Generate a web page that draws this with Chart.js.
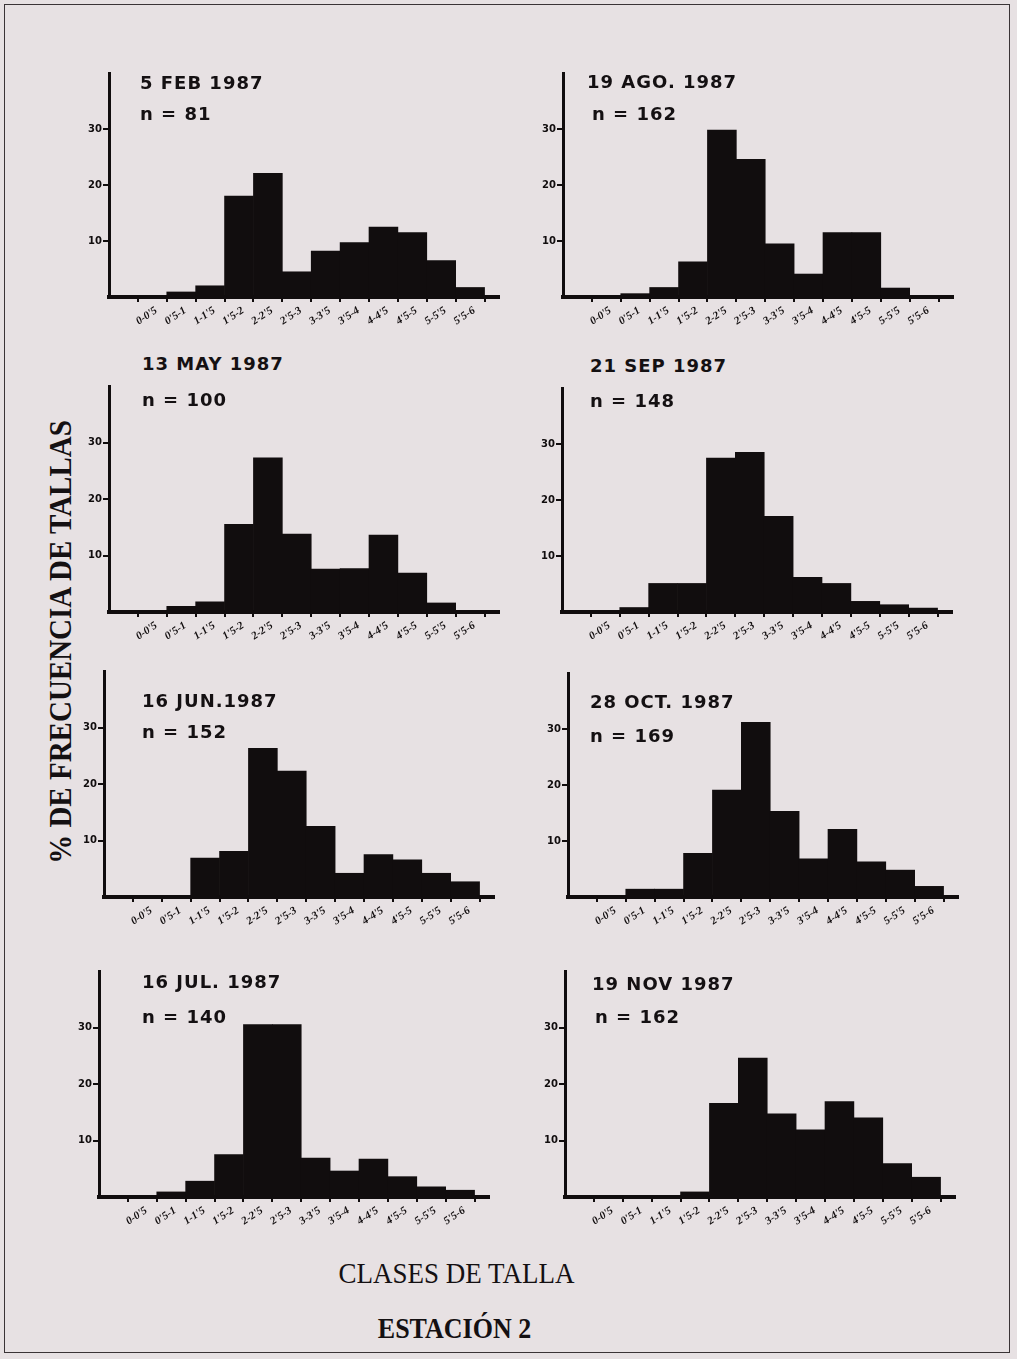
<!DOCTYPE html>
<html>
<head>
<meta charset="utf-8">
<script src="https://cdn.jsdelivr.net/npm/chart.js@4/dist/chart.umd.min.js"></script>
<style>
html,body{margin:0;padding:0;background:#e7e1e3;}
#page{position:relative;width:1017px;height:1359px;background:#e7e1e3;overflow:hidden;}
#frame{position:absolute;left:4px;top:4px;width:1004px;height:1347px;border:1.5px solid #3a3436;}
canvas{position:absolute;}
.t{position:absolute;font-family:"DejaVu Sans",sans-serif;font-weight:bold;font-size:18px;line-height:18px;letter-spacing:1px;color:#141012;white-space:pre;}
#ytitle{position:absolute;width:520px;left:-200px;top:627px;height:30px;line-height:30px;text-align:center;
  font-family:"Liberation Serif",serif;font-weight:bold;font-size:29px;color:#141012;transform:rotate(-90deg) scaleY(1.1);transform-origin:center center;white-space:pre;}
#xtitle{position:absolute;left:0;width:913px;top:1258px;line-height:30px;text-align:center;font-family:"Liberation Serif",serif;font-size:27px;color:#141012;white-space:pre;transform:scaleY(1.12);}
#station{position:absolute;left:0;width:909px;top:1314px;line-height:30px;text-align:center;font-family:"Liberation Serif",serif;font-weight:bold;font-size:26px;color:#141012;white-space:pre;transform:scaleY(1.12);}
</style>
</head>
<body>
<div id="page">
  <div id="frame"></div>
  <div id="ytitle">% DE FRECUENCIA DE TALLAS</div>
  <div id="xtitle">CLASES DE TALLA</div>
  <div id="station">ESTACIÓN 2</div>
</div>
<script>
// ---- data ----
const classLabels = ["0-0'5","0'5-1","1-1'5","1'5-2","2-2'5","2'5-3","3-3'5","3'5-4","4-4'5","4'5-5","5-5'5","5'5-6"];
const classLower = [0, 0.5, 1, 1.5, 2, 2.5, 3, 3.5, 4, 4.5, 5, 5.5];
const classUpper = [0.5, 1, 1.5, 2, 2.5, 3, 3.5, 4, 4.5, 5, 5.5, 6];
const yTickValues = [10, 20, 30];
const sampleDates = ["5 FEB 1987", "19 AGO. 1987", "13 MAY 1987", "21 SEP 1987", "16 JUN.1987", "28 OCT. 1987", "16 JUL. 1987", "19 NOV 1987"];
const sampleN = [81, 162, 100, 148, 152, 169, 140, 162];

const feb = [0, 0.9, 2.0, 18.0, 22.1, 4.5, 8.2, 9.7, 12.5, 11.5, 6.5, 1.7];
const ago = [0, 0.6, 1.7, 6.3, 29.8, 24.6, 9.5, 4.1, 11.5, 11.5, 1.6, 0];
const may = [0, 1.0, 1.8, 15.5, 27.3, 13.8, 7.6, 7.7, 13.6, 6.9, 1.6, 0];
const sep = [0, 0.8, 5.1, 5.1, 27.5, 28.5, 17.1, 6.2, 5.1, 1.9, 1.3, 0.7];
const jun = [0, 0, 6.9, 8.1, 26.3, 22.3, 12.5, 4.2, 7.5, 6.6, 4.2, 2.7];
const oct = [0, 1.4, 1.4, 7.8, 19.1, 31.2, 15.3, 6.8, 12.1, 6.3, 4.8, 1.9];
const jul = [0, 0.9, 2.8, 7.5, 30.5, 30.5, 6.9, 4.6, 6.7, 3.6, 1.8, 1.2];
const nov = [0, 0, 0, 0.9, 16.6, 24.6, 14.7, 11.9, 16.9, 14.0, 5.9, 3.5];
const seriesList = [feb, ago, may, sep, jun, oct, jul, nov];

// ---- layout (styles only) ----
const INK = '#110d0e';
const panelPos = [
  {x0:109, top:72,  base:297,  tx1:140, tx2:140, b1:89,   b2:120},
  {x0:563, top:72,  base:297,  tx1:587, tx2:592, b1:88,   b2:120},
  {x0:109, top:385, base:612,  tx1:142, tx2:142, b1:370,  b2:406},
  {x0:562, top:387, base:612,  tx1:590, tx2:590, b1:372,  b2:407},
  {x0:104, top:670, base:897,  tx1:142, tx2:142, b1:707,  b2:738},
  {x0:568, top:672, base:897,  tx1:590, tx2:590, b1:708,  b2:742},
  {x0:99,  top:970, base:1197, tx1:142, tx2:142, b1:988,  b2:1023},
  {x0:565, top:970, base:1197, tx1:592, tx2:595, b1:990,  b2:1023}
];
const AXW = 44, PADT = 6, PADR = 8, XH = 50, PLOTW = 390;
const XMIN = -0.5, XMAX = 6.25;

const page = document.getElementById('page');

function buildXTicks() {
  const arr = classLower.map((lo, i) => ({value: lo, lab: classLabels[i]}));
  arr.push({value: classUpper[classUpper.length - 1], lab: ''});
  return arr;
}

seriesList.forEach((vals, k) => {
  const p = panelPos[k];
  const w = AXW + PLOTW + PADR;
  const h = (p.base - p.top) + PADT + XH;
  const cv = document.createElement('canvas');
  cv.width = w; cv.height = h;
  cv.style.width = w + 'px'; cv.style.height = h + 'px';
  cv.style.left = (p.x0 - AXW) + 'px';
  cv.style.top = (p.top - PADT) + 'px';
  page.appendChild(cv);

  const t1 = document.createElement('div');
  t1.className = 't'; t1.textContent = sampleDates[k];
  t1.style.left = p.tx1 + 'px'; t1.style.top = (p.b1 - 15) + 'px';
  page.appendChild(t1);
  const t2 = document.createElement('div');
  t2.className = 't'; t2.textContent = 'n = ' + sampleN[k];
  t2.style.left = p.tx2 + 'px'; t2.style.top = (p.b2 - 15) + 'px';
  page.appendChild(t2);

  const mids = classLower.map((lo, i) => (lo + classUpper[i]) / 2);
  const halfBinPx = PLOTW / (XMAX - XMIN) * (classUpper[0] - classLower[0]) / 2;
  new Chart(cv, {
    type: 'bar',
    data: {
      datasets: [{
        data: mids.map((m, i) => ({x: m, y: vals[i]})),
        backgroundColor: INK,
        borderWidth: 0,
        barPercentage: 1,
        categoryPercentage: 1
      }]
    },
    options: {
      responsive: false,
      animation: false,
      events: [],
      devicePixelRatio: 1,
      layout: {padding: {top: PADT, right: PADR, left: 0, bottom: 0}},
      plugins: {legend: {display: false}, tooltip: {enabled: false}, title: {display: false}},
      scales: {
        x: {
          type: 'linear', min: XMIN, max: XMAX, offset: false,
          afterBuildTicks: s => { s.ticks = buildXTicks(); },
          afterFit: s => { s.height = XH; },
          grid: {offset: false, drawOnChartArea: false, drawTicks: true, tickLength: 5, lineWidth: 2, color: INK},
          border: {display: true, color: INK, width: 4},
          ticks: {
            autoSkip: false, minRotation: 34, maxRotation: 34, padding: 2, color: INK,
            labelOffset: halfBinPx + 4,
            font: {family: 'Liberation Serif', style: 'italic', weight: 'bold', size: 11},
            callback: (v, i, ticks) => ticks[i].lab
          }
        },
        y: {
          min: 0, max: 40,
          afterBuildTicks: s => { s.ticks = yTickValues.map(v => ({value: v})); },
          afterFit: s => { s.width = AXW; },
          grid: {drawOnChartArea: false, drawTicks: true, tickLength: 6, lineWidth: 2, color: INK},
          border: {display: true, color: INK, width: 3},
          ticks: {padding: 1, color: INK, font: {family: 'DejaVu Sans', weight: 'bold', size: 10}}
        }
      }
    }
  });
});
</script>
</body>
</html>
